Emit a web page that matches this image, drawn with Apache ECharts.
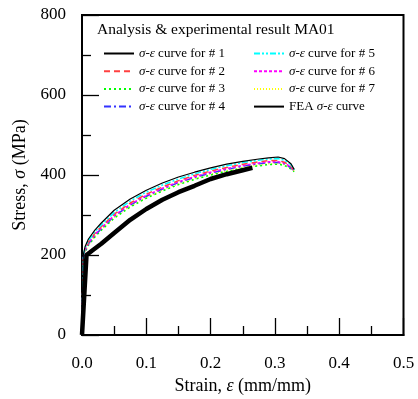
<!DOCTYPE html>
<html><head><meta charset="utf-8">
<script src="https://cdn.jsdelivr.net/npm/echarts@6/dist/echarts.min.js"></script>
<style>html,body{margin:0;padding:0;background:#fff}#c{width:418px;height:399px}</style>
</head><body><div id="c"></div>
<script>
var xTicks = [0.0, 0.1, 0.2, 0.3, 0.4, 0.5];
var yTicks = [0, 200, 400, 600, 800];
var strainExp = [0, 0.002, 0.005, 0.01, 0.02, 0.03, 0.05, 0.075, 0.1, 0.125, 0.15, 0.175, 0.2, 0.225, 0.25, 0.275, 0.29, 0.305, 0.315, 0.325, 0.33];
var stress1 = [0, 200, 222, 240, 262, 280, 312, 340, 362, 380, 395, 407, 418, 427, 434, 440, 443, 445, 441, 428, 414];
var stress2 = [0, 196, 215, 232, 254, 271, 302, 330, 352, 370, 386, 399, 410, 419, 427, 433, 436, 436, 432, 422, 411];
var stress3 = [0, 192, 208, 224, 245, 262, 292, 320, 342, 360, 376, 389, 400, 409, 417, 423, 426, 427, 424, 415, 408];
var stress4 = [0, 194, 211, 228, 249, 266, 297, 325, 347, 365, 381, 394, 405, 414, 422, 428, 431, 431, 428, 418, 409];
var stress5 = [0, 198, 218, 236, 258, 275, 306, 335, 357, 375, 390, 403, 414, 423, 431, 437, 440, 441, 437, 426, 413];
var stress6 = [0, 195, 213, 230, 251, 268, 299, 327, 349, 367, 383, 396, 407, 416, 424, 430, 433, 433, 430, 420, 410];
var stress7 = [0, 193, 210, 226, 247, 264, 294, 322, 344, 362, 378, 391, 402, 411, 419, 425, 428, 429, 426, 417, 409];
var strainFEA = [0, 0.007, 0.015, 0.03, 0.05, 0.075, 0.1, 0.125, 0.15, 0.175, 0.2, 0.225, 0.25, 0.265];
var stressFEA = [0, 200, 210, 228, 255, 288, 315, 338, 357, 373, 390, 402, 412, 418];
var names = ['σ-ε curve for # 1','σ-ε curve for # 2','σ-ε curve for # 3','σ-ε curve for # 4','σ-ε curve for # 5','σ-ε curve for # 6','σ-ε curve for # 7','FEA σ-ε curve'];
var titleText = 'Analysis & experimental result MA01';

var FONT = "'Liberation Serif','Times New Roman',serif";
function pairs(xs, ys){ return xs.map(function(x,i){ return [x, ys[i]]; }); }
function line(name, xs, ys, color, width, type){
  return {name:name, type:'line', data:pairs(xs,ys), showSymbol:false, symbol:'circle', smooth:false, animation:false,
    lineStyle:{color:color, width:width, type:type}, itemStyle:{color:color}};
}
var series = [
  line(names[6], strainExp, stress7, '#ffff00', 1.5, [1,2]),
  line(names[2], strainExp, stress3, '#00ff00', 1.5, [2,3]),
  line(names[3], strainExp, stress4, '#3333ff', 1.5, [7,3,2,3]),
  line(names[5], strainExp, stress6, '#ff00ff', 1.5, [3,2]),
  line(names[1], strainExp, stress2, '#ff4040', 1.5, [6,4]),
  line(names[4], strainExp, stress5, '#00ffff', 1.5, [6,2,2,2,2,2]),
  line(names[0], strainExp, stress1, '#000000', 1.2, 'solid'),
  line(names[7], strainFEA, stressFEA, '#000000', 4.5, 'solid')
];
var rich = {i:{fontStyle:'italic', fontFamily:FONT, fontSize:13, color:'#000'}};
function legend(left, data){
  return {orient:'vertical', left:left, top:42, data:data, itemWidth:30, itemHeight:12, itemGap:4.7,
    selectedMode:false, itemStyle:{opacity:0, borderWidth:0},
    textStyle:{fontFamily:FONT, fontSize:13, color:'#000', lineHeight:12, rich:rich},
    formatter:function(n){ return n.replace('σ-ε','{i|σ-ε}'); }};
}
function axisCommon(){
  return {
    axisLine:{show:true, lineStyle:{color:'#000', width:2}},
    axisTick:{show:true, inside:true, length:17, lineStyle:{color:'#000', width:1.3}},
    minorTick:{show:true, splitNumber:2, length:9, lineStyle:{color:'#000', width:1.3}},
    splitLine:{show:false}
  };
}
var xA = axisCommon(), yA = axisCommon();
xA.type='value'; xA.min=xTicks[0]; xA.max=xTicks[xTicks.length-1]; xA.interval=0.1;
xA.name='Strain, {i|ε} (mm/mm)'; xA.nameLocation='middle'; xA.nameGap=38;
xA.nameTextStyle={fontFamily:FONT, fontSize:18, color:'#000', rich:{i:{fontStyle:'italic', fontFamily:FONT, fontSize:18, color:'#000'}}};
xA.axisLabel={fontFamily:FONT, fontSize:17, color:'#000', margin:20, formatter:function(v){return v.toFixed(1);}};
yA.type='value'; yA.min=yTicks[0]; yA.max=yTicks[yTicks.length-1]; yA.interval=200;
yA.name='Stress, {i|σ} (MPa)'; yA.nameLocation='middle'; yA.nameGap=51;
yA.nameTextStyle={fontFamily:FONT, fontSize:18, color:'#000', rich:{i:{fontStyle:'italic', fontFamily:FONT, fontSize:18, color:'#000'}}};
yA.axisLabel={fontFamily:FONT, fontSize:17, color:'#000', margin:16};

var chart = echarts.init(document.getElementById('c'));
chart.setOption({
  animation:false,
  backgroundColor:'#fff',
  title:{text:titleText, left:92, top:17, textStyle:{fontFamily:FONT, fontSize:15.5, fontWeight:'normal', color:'#000'}},
  legend:[legend(98, names.slice(0,4)), legend(248, names.slice(4,8))],
  grid:{left:82, right:14.5, top:15, bottom:64, show:true, borderColor:'#000', borderWidth:2, outerBoundsMode:'none', containLabel:false},
  xAxis:xA, yAxis:yA,
  series:series
});
</script></body></html>
